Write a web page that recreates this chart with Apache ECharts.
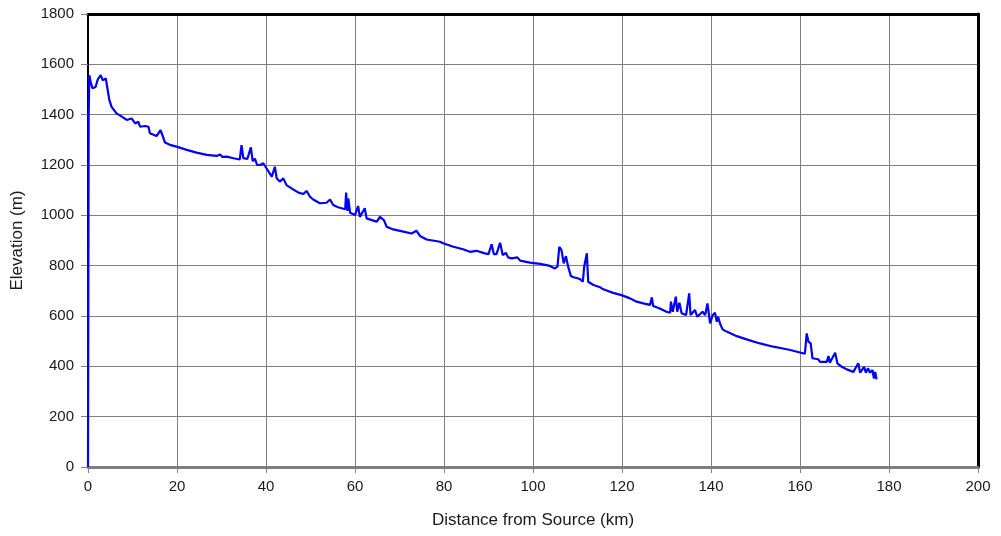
<!DOCTYPE html>
<html>
<head>
<meta charset="utf-8">
<script src="https://cdn.jsdelivr.net/npm/echarts@6/dist/echarts.min.js"></script>
<style>
html,body{margin:0;padding:0;background:#fff;}
#chart{width:1001px;height:536px;}
</style>
</head>
<body>
<div id="chart"></div>
<script>
var xTitle = 'Distance from Source (km)';
var yTitle = 'Elevation (m)';
var xMin = 0, xMax = 200, xStep = 20;
var yMin = 0, yMax = 1800, yStep = 200;

var distanceKm = [0.0,0.15,0.3,0.6,1.0,1.3,1.7,2.2,2.85,3.3,4.0,4.4,4.8,5.3,6.4,7.6,7.9,8.7,9.8,10.2,10.6,11.3,11.7,12.8,13.6,13.9,15.4,16.3,16.8,17.3,18.4,19.9,22.2,24.4,26.7,28.9,29.7,30.2,31.2,32.7,34.1,34.5,34.9,35.8,36.6,37.0,37.5,38.0,38.7,39.4,40.1,41.3,42.0,42.4,43.1,43.9,44.6,46.1,47.3,48.4,49.1,49.9,50.6,52.1,53.6,54.4,55.1,56.2,57.8,58.0,58.3,58.5,58.9,60.0,60.7,61.1,62.2,62.6,63.8,64.9,65.6,66.0,66.5,67.1,68.6,70.9,72.7,73.8,74.6,76.1,79.1,79.8,82.1,84.3,85.8,87.3,89.2,90.0,90.7,91.2,91.8,92.6,93.2,93.9,94.4,95.2,96.5,97.1,99.3,101.6,103.8,104.9,105.5,105.9,106.4,106.9,107.4,107.9,108.5,109.1,110.0,110.6,111.2,111.5,112.1,112.4,113.6,115.1,115.4,115.8,118.0,119.9,121.8,123.3,124.8,126.3,126.7,127.0,128.5,130.0,130.8,131.0,131.4,132.1,132.4,132.9,133.4,134.4,135.1,135.4,136.4,136.9,138.1,138.7,139.2,139.5,139.8,140.4,140.9,141.3,141.6,142.0,142.6,143.5,145.8,148.0,151.0,154.0,156.2,157.8,160.0,161.1,161.5,161.9,162.4,162.8,164.1,164.5,166.0,166.4,166.7,167.9,168.4,168.8,169.4,170.5,172.0,173.1,173.5,174.4,174.8,175.3,175.7,176.3,176.6,176.9,177.2];

var elevationM = [0,1400,1557,1530,1505,1498,1510,1540,1557,1537,1544,1500,1458,1431,1405,1392,1398,1379,1385,1389,1365,1372,1352,1355,1352,1326,1315,1339,1315,1289,1280,1273,1260,1249,1240,1236,1242,1232,1233,1227,1222,1279,1227,1224,1270,1215,1225,1200,1200,1207,1187,1154,1193,1147,1134,1147,1120,1103,1090,1085,1097,1074,1063,1048,1050,1063,1041,1032,1024,1090,1018,1067,1010,1001,1037,994,1028,988,981,975,994,1001,981,955,944,935,928,939,918,904,895,889,875,865,855,859,849,846,885,846,846,891,842,851,833,829,833,820,812,807,799,789,796,875,862,809,838,796,759,754,750,746,736,796,849,736,723,714,719,706,692,683,670,657,650,644,674,640,630,617,613,657,617,677,617,653,611,604,690,604,624,597,617,604,650,611,571,604,613,577,597,571,547,538,520,507,491,478,471,465,455,450,531,498,491,432,428,418,418,441,414,454,412,418,398,388,378,412,375,398,375,392,375,385,352,378,348];

var profile = distanceKm.map(function (d, i) { return [d, elevationM[i]]; });

var chart = echarts.init(document.getElementById('chart'), null, {renderer: 'canvas'});
var font = 'Liberation Sans, Arial, sans-serif';
var plain = function (v) { return String(v); };
chart.setOption({
  animation: false,
  backgroundColor: '#ffffff',
  grid: {left: 88, right: 23, top: 14, bottom: 69, containLabel: false},
  xAxis: [{
    type: 'value', min: xMin, max: xMax, interval: xStep,
    name: xTitle, nameLocation: 'middle', nameGap: 45,
    nameTextStyle: {fontFamily: font, fontSize: 17, color: '#1a1a1a'},
    axisLine: {show: true, onZero: false, lineStyle: {color: '#7f7f7f', width: 3}},
    axisTick: {show: true, inside: false, length: 6, lineStyle: {color: '#7f7f7f', width: 1}},
    axisLabel: {margin: 12, fontFamily: font, fontSize: 15, color: '#1a1a1a', formatter: plain},
    splitLine: {show: true, lineStyle: {color: '#808080', width: 1}}
  }, {
    type: 'value', position: 'top', min: xMin, max: xMax,
    axisLine: {show: true, onZero: false, lineStyle: {color: '#000', width: 3}},
    axisTick: {show: false}, axisLabel: {show: false}, splitLine: {show: false}
  }],
  yAxis: [{
    type: 'value', min: yMin, max: yMax, interval: yStep,
    name: yTitle, nameLocation: 'middle', nameGap: 62, nameRotate: 90,
    nameTextStyle: {fontFamily: font, fontSize: 17, color: '#1a1a1a'},
    axisLine: {show: true, onZero: false, lineStyle: {color: '#000', width: 2}},
    axisTick: {show: true, inside: false, length: 7, lineStyle: {color: '#7f7f7f', width: 1}},
    axisLabel: {margin: 14, fontFamily: font, fontSize: 15, color: '#1a1a1a', formatter: plain},
    splitLine: {show: true, lineStyle: {color: '#808080', width: 1}}
  }, {
    type: 'value', position: 'right', min: yMin, max: yMax,
    axisLine: {show: true, onZero: false, lineStyle: {color: '#000', width: 3}},
    axisTick: {show: false}, axisLabel: {show: false}, splitLine: {show: false}
  }],
  series: [{
    type: 'line',
    data: profile,
    showSymbol: false,
    symbol: 'none',
    lineStyle: {color: '#0000ff', width: 2.2},
    itemStyle: {color: '#0000ff'},
    z: 5
  }]
});
</script>
</body>
</html>
